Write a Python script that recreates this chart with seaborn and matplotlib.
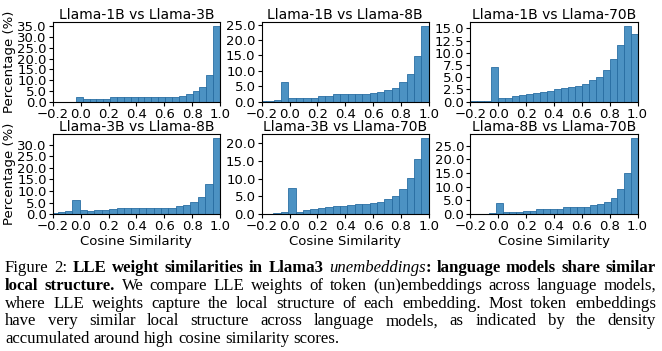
import numpy as np
import pandas as pd
import matplotlib
matplotlib.use("Agg")
import matplotlib.pyplot as plt
from matplotlib.ticker import MultipleLocator, FormatStrFormatter
import seaborn as sns

# one entry per panel: title, lower edge of the first bin, bar heights (%)
titles = [
    "Llama-1B vs Llama-3B", "Llama-1B vs Llama-8B", "Llama-1B vs Llama-70B",
    "Llama-3B vs Llama-8B", "Llama-3B vs Llama-70B", "Llama-8B vs Llama-70B",
]
bin_lows = [-0.036, -0.22, -0.207, -0.22, -0.17, -0.067]
h_1b_3b = [2.3, 1.0, 1.0, 1.4, 1.4, 1.9, 1.9, 2.3, 2.3, 2.3, 2.3, 2.3, 2.3,
           2.3, 2.3, 2.8, 3.3, 4.7, 7.0, 12.5, 35.3]
h_1b_8b = [0.1, 0.3, 0.65, 6.5, 1.3, 1.0, 1.0, 1.3, 1.95, 1.95, 2.3, 2.3,
           2.6, 2.6, 2.6, 2.9, 3.2, 3.6, 4.5, 6.2, 9.1, 14.9, 24.7]
h_1b_70b = [0.05, 0.05, 0.2, 7.05, 0.7, 0.7, 1.1, 1.3, 1.65, 1.85, 2.05, 2.25,
            2.5, 2.75, 2.95, 3.15, 3.7, 4.4, 5.1, 6.4, 8.7, 11.7, 15.6, 13.8]
h_3b_8b = [0.3, 0.7, 1.3, 6.0, 1.7, 1.3, 1.7, 1.7, 2.1, 2.5, 2.5, 2.5, 2.8,
           2.8, 2.8, 2.8, 2.8, 3.4, 4.0, 5.1, 7.3, 12.9, 32.9]
h_3b_70b = [0.05, 0.3, 0.6, 7.4, 0.6, 1.2, 1.5, 1.7, 2.0, 2.25, 2.25, 2.5,
            2.8, 2.8, 3.2, 3.4, 4.2, 5.2, 7.0, 10.1, 15.5, 21.4]
h_8b_70b = [0.5, 4.2, 0.85, 0.85, 0.85, 1.2, 1.2, 1.7, 1.7, 2.0, 2.0, 2.5,
            2.5, 2.75, 2.75, 3.5, 3.8, 4.5, 6.0, 9.3, 15.0, 27.7]
heights = [h_1b_3b, h_1b_8b, h_1b_70b, h_3b_8b, h_3b_70b, h_8b_70b]
y_steps = [5, 5, 2.5, 5, 5, 5]
x_ticks = [-0.2, 0.0, 0.2, 0.4, 0.6, 0.8, 1.0]

# caption: (text, style) runs per line; n = normal, b = bold, i = italic
caption = [
    [("Figure 2: ", "n"), ("LLE weight similarities in Llama3 ", "b"),
     ("unembeddings", "i"), (": language models share similar", "b")],
    [("local structure.", "b"),
     (" We compare LLE weights of token (un)embeddings across language models,", "n")],
    [("where LLE weights capture the local structure of each embedding. Most token embeddings", "n")],
    [("have very similar local structure across language models, as indicated by the density", "n")],
    [("accumulated around high cosine similarity scores.", "n")],
]

fig, axes = plt.subplots(2, 3, figsize=(6.62, 3.51), dpi=100)
fig.subplots_adjust(left=0.080, right=0.963, top=0.938, bottom=0.390,
                    wspace=0.25, hspace=0.41)

for i, ax in enumerate(axes.flat):
    h = heights[i]
    edges = np.linspace(bin_lows[i], 1.0, len(h) + 1)
    df = pd.DataFrame({"x": (edges[:-1] + edges[1:]) / 2, "w": h})
    sns.histplot(data=df, x="x", weights="w", bins=list(edges), ax=ax,
                 color="#1f77b4", alpha=0.8, edgecolor="#2a6fa3",
                 linewidth=0.6)
    ax.set_xlim(-0.2, 1.0)
    ax.set_xticks(x_ticks)
    ax.yaxis.set_major_locator(MultipleLocator(y_steps[i]))
    ax.yaxis.set_major_formatter(FormatStrFormatter("%.1f"))
    ax.tick_params(labelsize=9.5, pad=1.5, length=3)
    ax.set_title(titles[i], fontsize=10, pad=2)
    ax.set_ylabel("Percentage (%)" if i % 3 == 0 else "", fontsize=9.5,
                  labelpad=1)
    ax.set_xlabel("Cosine Similarity" if i >= 3 else "", fontsize=9.5,
                  labelpad=1)

# justified caption below the plots
styles = {"n": {}, "b": {"weight": "bold"}, "i": {"style": "italic"}}
serif = "Liberation Serif"
fig.canvas.draw()
r = fig.canvas.get_renderer()
W = fig.bbox.width


def words_of(runs):
    words = [[]]
    for txt, st in runs:
        parts = txt.split(" ")
        for k, p in enumerate(parts):
            if k > 0:
                words.append([])
            if p:
                words[-1].append((p, st))
    return [w for w in words if w]


def width_of(s, st, size):
    t = fig.text(0, 0, s, fontsize=size, family=serif, **styles[st])
    w = t.get_window_extent(r).width
    t.remove()
    return w


x0, x1 = 5, 656
# pick the caption size so the widest justified line just fits
natural = [width_of("".join(t for t, _ in runs), "n", 10)
           for runs in caption[:-1]]
natural[0] = sum(width_of(t, st, 10) for t, st in caption[0])
cap_size = 10 * (x1 - x0) * 0.985 / max(natural)

y_first, line_h = 351 - 268, 17.8
space_n = width_of("a b", "n", cap_size) - width_of("ab", "n", cap_size)
for li, runs in enumerate(caption):
    words = words_of(runs)
    ww = [[width_of(s, st, cap_size) for s, st in w] for w in words]
    tot = sum(sum(w) for w in ww)
    space = space_n
    if li < len(caption) - 1:
        space = (x1 - x0 - tot) / (len(words) - 1)
    x = x0
    y = (y_first - li * line_h) / 351
    for w, wws in zip(words, ww):
        for (s, st), wd in zip(w, wws):
            fig.text(x / W, y, s, fontsize=cap_size, family=serif,
                     va="center", ha="left", **styles[st])
            x += wd
        x += space

fig.savefig("out.png", dpi=100)
